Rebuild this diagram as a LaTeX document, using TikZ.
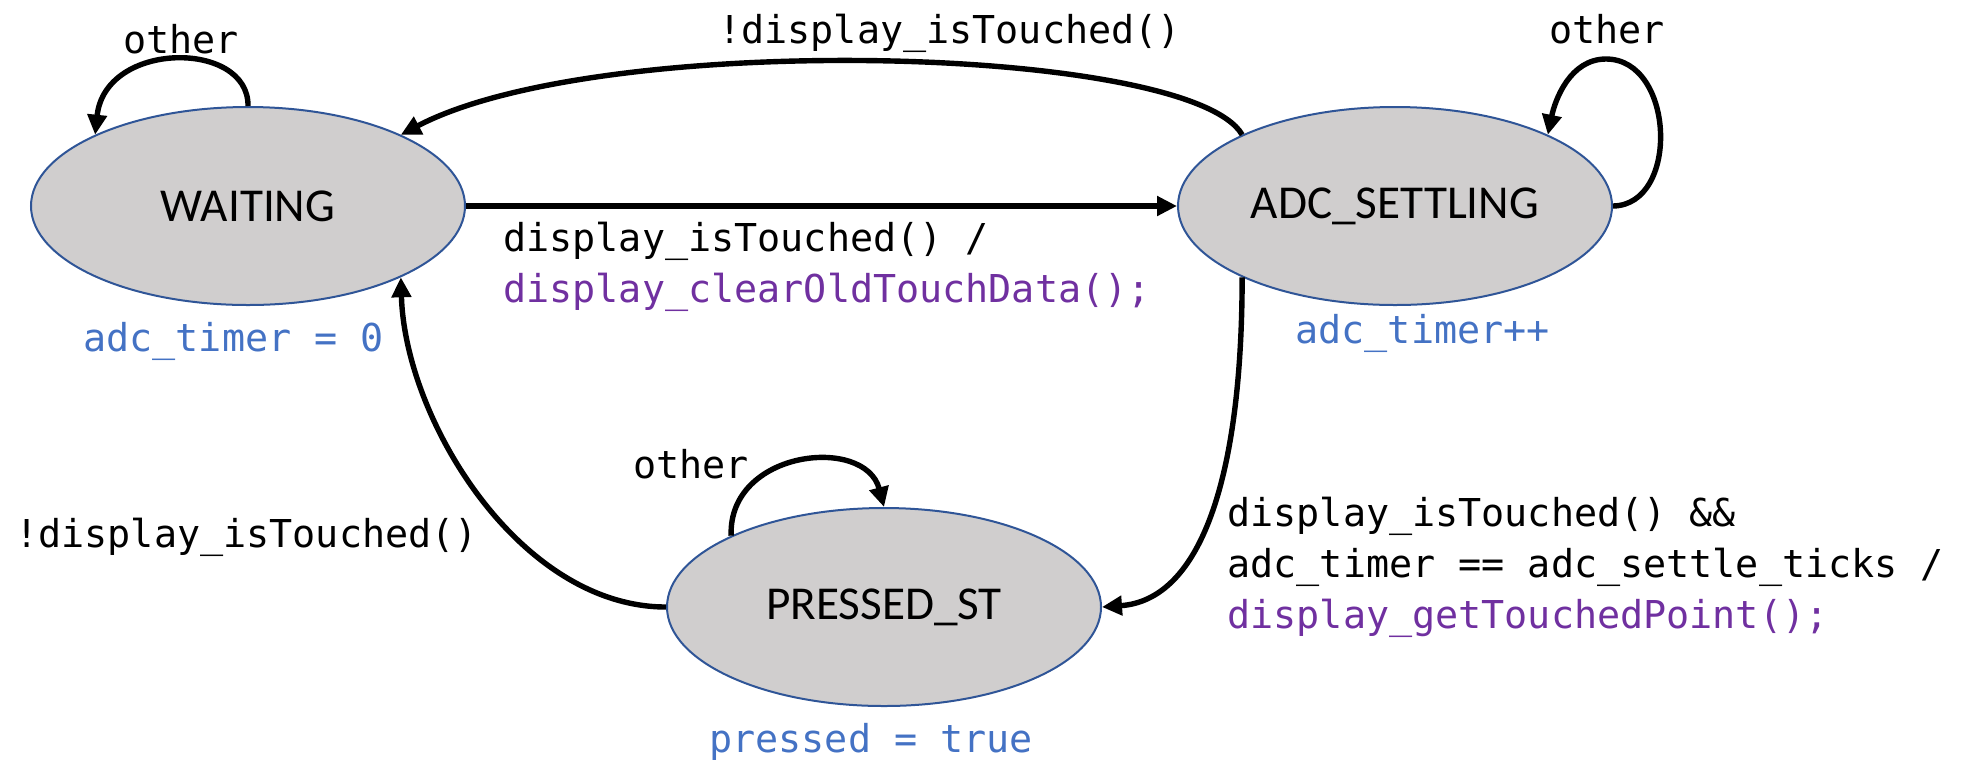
\documentclass[tikz,border=0pt]{standalone}
\usepackage{fontspec}
\setmainfont{Carlito}
\setmonofont{DejaVu Sans Mono}
\usetikzlibrary{arrows.meta,shapes.geometric}
\definecolor{stfill}{HTML}{D0CECE}
\definecolor{stdraw}{HTML}{2F5597}
\definecolor{actblue}{HTML}{4472C4}
\definecolor{actpurple}{HTML}{7030A0}
\begin{document}
\begin{tikzpicture}[x=0.5pt,y=-0.5pt,
  state/.style={ellipse, draw=stdraw, line width=1pt, fill=stfill,
    minimum width=217pt, minimum height=99pt, inner sep=0pt,
    font=\fontsize{23.6}{28}\selectfont},
  lbl/.style={inner sep=0pt, anchor=base west, align=left,
    font=\ttfamily\fontsize{19.2}{25.5}\selectfont},
  arr/.style={line width=2.7pt, -{Triangle[length=10pt,width=9.5pt]}},
]
\useasboundingbox (0,0) rectangle (1962,762);

\node[state] (W) at (248,206) {WAITING};
\node[state] (A) at (1395,206) {ADC\_SETTLING};
\node[state] (P) at (884,607) {PRESSED\_ST};

\draw[arr] (W.90) .. controls (249,40) and (105,40) .. (W.155);
\draw[arr] (A.155) .. controls (1190,45) and (600,30) .. (W.25);
\draw[arr] (W.east) -- (A.west);
\draw[arr] (A.east) .. controls (1680,205) and (1675,59) .. (1606,59)
  .. controls (1570,59) and (1555,100) .. (A.25);
\draw[arr] (A.205) .. controls (1242,480) and (1200,600) .. (P.east);
\draw[arr] (P.west) .. controls (520,607) and (405,420) .. (W.335);
\draw[arr] (P.155) .. controls (728,450) and (865,435) .. (P.north);

\node[lbl] (oW) at (123,53) {other};
\node[lbl] (tT) at (718,43) {!display\_isTouched()};
\node[lbl] (oA) at (1549,43) {other};
\node[lbl] (tWA) at (503,302) {display\_isTouched() /\\\textcolor{actpurple}{display\_clearOldTouchData();}};
\node[lbl, text=actblue] (aW) at (83,351) {adc\_timer = 0};
\node[lbl, text=actblue] (aA) at (1295,343) {adc\_timer++};
\node[lbl] (oP) at (633,478) {other};
\node[lbl] (tPW) at (15,547) {!display\_isTouched()};
\node[lbl] (tAP) at (1227,628) {display\_isTouched() \&\&\\adc\_timer == adc\_settle\_ticks /\\\textcolor{actpurple}{display\_getTouchedPoint();}};
\node[lbl, text=actblue] (aP) at (709,752) {pressed = true};
\end{tikzpicture}
\end{document}
